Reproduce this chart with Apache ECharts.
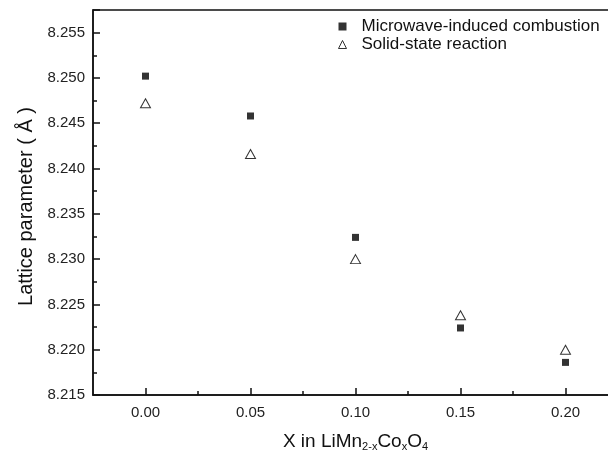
<!DOCTYPE html>
<html>
<head>
<meta charset="utf-8">
<script src="https://cdn.jsdelivr.net/npm/echarts@6/dist/echarts.min.js"></script>
<style>html,body{margin:0;padding:0;background:#fff;}#c{width:608px;height:453px;}</style>
</head>
<body>
<div id="c"></div>
<script>
var xValues = [0.00, 0.05, 0.10, 0.15, 0.20];
var microwave = [8.2502, 8.2458, 8.2324, 8.2224, 8.2186];
var solidState = [8.2472, 8.2416, 8.2300, 8.2238, 8.2200];
var xMajorTicks = [0.00, 0.05, 0.10, 0.15, 0.20];
var xMinorTicks = [0.025, 0.075, 0.125, 0.175];
var seriesNames = ['Microwave-induced combustion', 'Solid-state reaction'];

function pairs(xs, ys) { return xs.map(function (x, i) { return [x, ys[i]]; }); }

var font = 'Liberation Sans, Arial, sans-serif';
var chart = echarts.init(document.getElementById('c'));
chart.setOption({
  animation: false,
  backgroundColor: '#fff',
  textStyle: { fontFamily: font },
  grid: { left: 93, top: 10, width: 525, bottom: 58, outerBoundsMode: 'none', containLabel: false,
    show: true, borderColor: '#111', borderWidth: 1.5, backgroundColor: 'transparent' },
  legend: {
    orient: 'vertical', left: 333, top: 13, itemGap: 1, itemWidth: 8, itemHeight: 8,
    textStyle: { fontSize: 17, color: '#111', fontFamily: font, padding: [0, 0, 0, 10] },
    data: [
      { name: seriesNames[0], icon: 'rect', itemStyle: { color: '#000' } },
      { name: seriesNames[1], icon: 'triangle', itemStyle: { color: '#fff', borderColor: '#000', borderWidth: 1 } }
    ]
  },
  xAxis: [{
    type: 'value', min: -0.025, max: 0.225,
    axisLine: { onZero: false, lineStyle: { color: '#111', width: 1.5 } },
    axisTick: { inside: true, length: 7, customValues: xMajorTicks, lineStyle: { color: '#111', width: 1.5 } },
    axisLabel: { customValues: xMajorTicks, margin: 10, fontSize: 15, color: '#222', fontFamily: font, formatter: function (v) { return v.toFixed(2); } },
    splitLine: { show: false },
    name: 'X in LiMn{s|2-x}Co{s|x}O{s|4}', nameLocation: 'middle', nameGap: 36,
    nameTextStyle: { fontSize: 19, color: '#111', fontFamily: font,
      rich: { s: { fontSize: 11, fontFamily: font, color: '#111', verticalAlign: 'bottom', padding: [10, 0, 0, 0] } } }
  }, {
    type: 'value', min: -0.025, max: 0.225, position: 'bottom',
    axisLine: { show: false, onZero: false },
    axisTick: { inside: true, length: 4, customValues: xMinorTicks, lineStyle: { color: '#111', width: 1.5 } },
    axisLabel: { show: false }, splitLine: { show: false }
  }],
  yAxis: {
    type: 'value', min: 8.215, max: 8.2575, interval: 0.005,
    axisLine: { show: true, onZero: false, lineStyle: { color: '#111', width: 1.5 } },
    axisTick: { inside: true, length: 7, lineStyle: { color: '#111', width: 1.5 } },
    minorTick: { show: true, splitNumber: 2, length: 4, lineStyle: { color: '#111', width: 1.5 } },
    axisLabel: { margin: 8, fontSize: 15, color: '#222', fontFamily: font, showMaxLabel: false, formatter: function (v) { return v.toFixed(3); } },
    splitLine: { show: false },
    name: 'Lattice parameter ( Å )', nameLocation: 'middle', nameGap: 52, nameTextStyle: { fontSize: 20, color: '#111', fontFamily: font, padding: [0, 8, 0, 0] }
  },
  series: [{
    name: seriesNames[0], type: 'scatter', xAxisIndex: 0, symbol: 'rect', symbolSize: 7,
    itemStyle: { color: '#000' }, data: pairs(xValues, microwave)
  }, {
    name: seriesNames[1], type: 'scatter', xAxisIndex: 0, symbol: 'triangle', symbolSize: [10, 9],
    itemStyle: { color: '#fff', borderColor: '#000', borderWidth: 1 }, data: pairs(xValues, solidState)
  }]
});
</script>
</body>
</html>
